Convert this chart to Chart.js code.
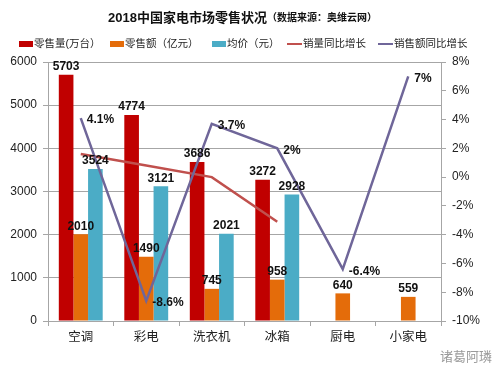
<!DOCTYPE html>
<html>
<head>
<meta charset="utf-8">
<script src="https://cdn.jsdelivr.net/npm/chart.js@4"></script>
<style>
html,body{margin:0;padding:0;background:#fff;}
#wrap{position:relative;width:500px;height:379px;}
</style>
</head>
<body>
<div id="wrap"><canvas id="c" width="500" height="379"></canvas></div>
<script>
const categories = ['空调', '彩电', '洗衣机', '冰箱', '厨电', '小家电'];
const salesVolume = [5703, 4774, 3686, 3272, null, null];       // 零售量(万台)
const salesAmount = [2010, 1490, 745, 958, 640, 559];            // 零售额(亿元)
const avgPrice = [3524, 3121, 2021, 2928, null, null];           // 均价(元)
const volumeGrowth = [1.6, 0.8, 0.0, -3.1, null, null];          // 销量同比增长 %
const amountGrowth = [4.1, -8.6, 3.7, 2, -6.4, 7];               // 销售额同比增长 %
const seriesNames = ['零售量(万台）', '零售额（亿元）', '均价（元）', '销量同比增长', '销售额同比增长'];
const titleMain = '2018中国家电市场零售状况';
const titleSub = '（数据来源：奥维云网）';
const watermark = '诸葛阿璘';

const FONT = '"Liberation Sans", "Noto Sans CJK SC", sans-serif';
const colors = ['#C00000', '#E46C0A', '#4BACC6', '#C0504D', '#6F6699'];

const decor = {
  id: 'decor',
  afterDraw(chart) {
    const ctx = chart.ctx;
    ctx.save();
    // title
    ctx.fillStyle = '#111';
    ctx.textBaseline = 'middle';
    ctx.font = 'bold 13px ' + FONT;
    const w1 = ctx.measureText(titleMain).width;
    let x = 108;
    ctx.textAlign = 'left';
    ctx.fillText(titleMain, x, 18);
    ctx.font = 'bold 10px ' + FONT;
    ctx.fillText(titleSub, x + w1, 18.5);
    // legend
    const mx = [19, 110, 212, 287, 378];
    ctx.font = '10.5px ' + FONT;
    chart.data.datasets.forEach((ds, i) => {
      const y = 44;
      if (ds.type === 'line') {
        ctx.strokeStyle = ds.borderColor;
        ctx.lineWidth = 2;
        ctx.beginPath();
        ctx.moveTo(mx[i], y);
        ctx.lineTo(mx[i] + 15, y);
        ctx.stroke();
        ctx.fillStyle = '#222';
        ctx.fillText(ds.label, mx[i] + 16, y);
      } else {
        ctx.fillStyle = ds.backgroundColor;
        ctx.fillRect(mx[i], y - 3, 14, 6);
        ctx.fillStyle = '#222';
        ctx.fillText(ds.label, mx[i] + 15, y);
      }
    });
    // watermark
    ctx.font = '13px ' + FONT;
    ctx.fillStyle = '#9a9a9a';
    ctx.fillText(watermark, 440, 357);
    ctx.restore();
  },
  afterDatasetsDraw(chart) {
    const ctx = chart.ctx;
    ctx.save();
    ctx.font = 'bold 12px ' + FONT;
    ctx.fillStyle = '#111';
    chart.data.datasets.forEach((ds, i) => {
      const meta = chart.getDatasetMeta(i);
      if (ds.label === seriesNames[3]) return;
      meta.data.forEach((el, j) => {
        const v = ds.data[j];
        if (v === null || v === undefined) return;
        if (ds.type === 'line') {
          ctx.textAlign = 'left';
          ctx.textBaseline = 'middle';
          ctx.fillText(v + '%', el.x + 6, el.y + 2);
        } else {
          ctx.textAlign = 'center';
          ctx.textBaseline = 'bottom';
          ctx.fillText(String(v), el.x, el.y - 2);
        }
      });
    });
    ctx.restore();
  }
};

const gridColor = '#A6A6A6';

new Chart(document.getElementById('c'), {
  type: 'bar',
  data: {
    labels: categories,
    datasets: [
      { label: seriesNames[0], data: salesVolume, backgroundColor: colors[0], yAxisID: 'y', order: 2 },
      { label: seriesNames[1], data: salesAmount, backgroundColor: colors[1], yAxisID: 'y', order: 2 },
      { label: seriesNames[2], data: avgPrice, backgroundColor: colors[2], yAxisID: 'y', order: 2 },
      { type: 'line', label: seriesNames[3], data: volumeGrowth, borderColor: colors[3], backgroundColor: colors[3], borderWidth: 2.5, pointRadius: 0, yAxisID: 'y1', order: 1, spanGaps: false },
      { type: 'line', label: seriesNames[4], data: amountGrowth, borderColor: colors[4], backgroundColor: colors[4], borderWidth: 2.5, pointRadius: 0, yAxisID: 'y1', order: 0 }
    ]
  },
  options: {
    responsive: false,
    animation: false,
    devicePixelRatio: 1,
    layout: { padding: { top: 62, left: 0, right: 0, bottom: 0 } },
    datasets: { bar: { categoryPercentage: 0.67, barPercentage: 1.0 } },
    plugins: { legend: { display: false }, title: { display: false }, tooltip: { enabled: false } },
    scales: {
      x: {
        offset: true,
        grid: { offset: true, drawOnChartArea: false, drawTicks: true, tickLength: 5, color: gridColor },
        border: { color: gridColor },
        ticks: { font: { size: 12.5, family: FONT }, color: '#222', padding: 4, maxRotation: 0 },
        afterFit(s) { s.height = 58; }
      },
      y: {
        position: 'left',
        min: 0, max: 6000,
        ticks: { stepSize: 1000, font: { size: 12, family: FONT }, color: '#222', padding: 6, callback: v => String(v) },
        grid: { color: gridColor, tickLength: 5 },
        border: { color: gridColor },
        afterFit(s) { s.width = 48; }
      },
      y1: {
        position: 'right',
        min: -10, max: 8,
        ticks: { stepSize: 2, font: { size: 12, family: FONT }, color: '#222', padding: 6, callback: v => v + '%' },
        grid: { drawOnChartArea: false, color: gridColor, tickLength: 5 },
        border: { color: gridColor },
        afterFit(s) { s.width = 59; }
      }
    }
  },
  plugins: [decor]
});
</script>
</body>
</html>
